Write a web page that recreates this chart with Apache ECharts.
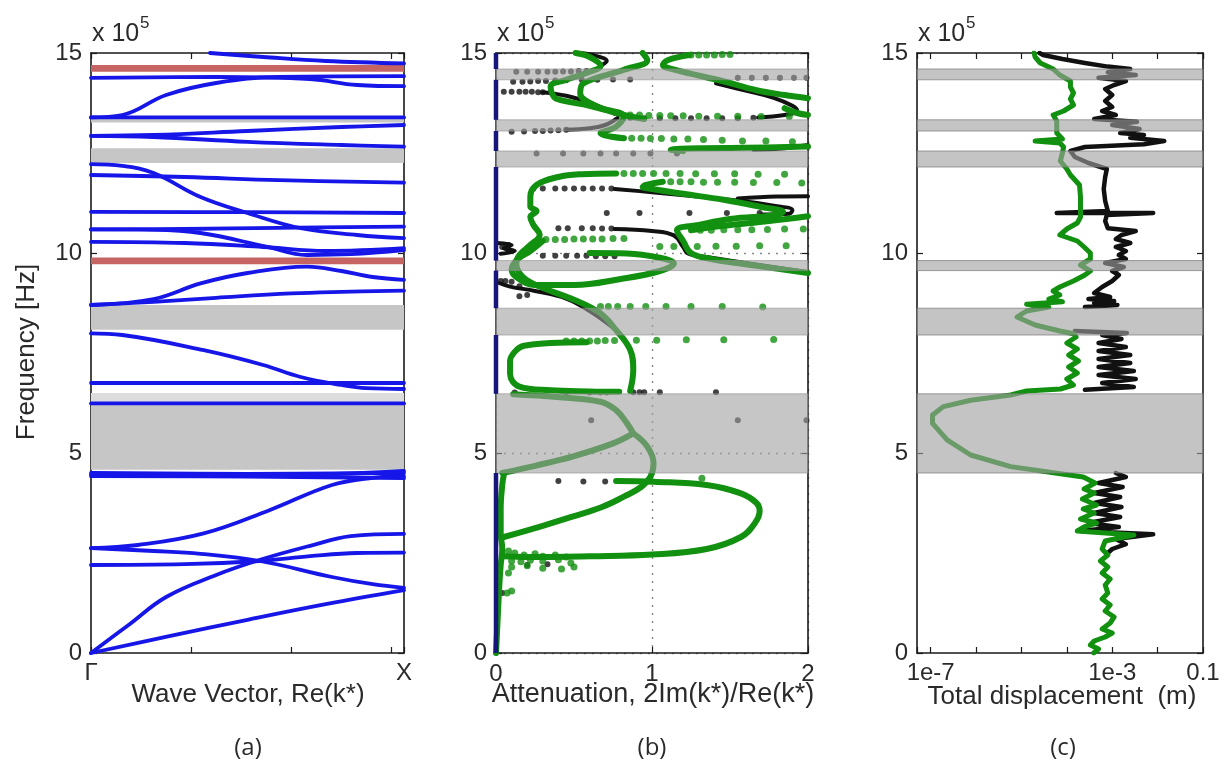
<!DOCTYPE html>
<html>
<head>
<meta charset="utf-8">
<script src="https://cdn.jsdelivr.net/npm/echarts@6/dist/echarts.min.js"></script>
<style>
html, body { margin: 0; background: #fff; }
#main { width: 1228px; height: 780px; }
</style>
</head>
<body>
<div id="main"></div>
<script>
// frequencies are in units of 1e5 Hz

// panel (a): band structure
var gapsA = [[13.26, 13.37], [12.25, 12.62], [8.08, 8.7], [4.58, 6.2]];
var lightGapsA = [[6.2, 6.5]];
var redBandsA = [[14.53, 14.7], [9.72, 9.89]];
var bandsA = [
  [[0, 0], [0.25, 0.42], [0.5, 0.83], [0.75, 1.22], [1, 1.57]],
  [[0, 0], [0.12, 0.7], [0.24, 1.4], [0.4, 1.95], [0.54, 2.33], [0.7, 2.68], [0.83, 2.92], [1, 2.98]],
  [[0, 2.62], [0.2, 2.55], [0.35, 2.48], [0.54, 2.3], [0.77, 1.9], [0.9, 1.72], [1, 1.63]],
  [[0, 2.2], [0.3, 2.22], [0.54, 2.3], [0.7, 2.42], [0.85, 2.5], [1, 2.51]],
  [[0, 2.62], [0.15, 2.7], [0.36, 2.99], [0.57, 3.57], [0.77, 4.2], [0.9, 4.38], [1, 4.42]],
  [[0, 4.5], [0.5, 4.48], [1, 4.5]],
  [[0, 4.42], [0.5, 4.41], [1, 4.37]],
  [[0, 4.46], [0.6, 4.45], [1, 4.55]],
  [[0, 6.24], [1, 6.24]],
  [[0, 6.75], [1, 6.75]],
  [[0, 7.99], [0.1, 7.95], [0.36, 7.57], [0.55, 7.2], [0.67, 6.9], [0.8, 6.7], [0.88, 6.62], [1, 6.6]],
  [[0, 8.7], [0.2, 8.85], [0.35, 9.24], [0.5, 9.5], [0.69, 9.66], [0.8, 9.55], [0.9, 9.4], [1, 9.33]],
  [[0, 8.7], [0.2, 8.78], [0.4, 8.88], [0.64, 8.99], [0.8, 9.03], [1, 9.06]],
  [[0, 10.59], [0.3, 10.6], [0.6, 10.63], [1, 10.66]],
  [[0, 10.59], [0.2, 10.58], [0.35, 10.5], [0.56, 10.16], [0.69, 9.95], [0.83, 9.97], [1, 10.07]],
  [[0, 10.28], [0.3, 10.25], [0.55, 10.15], [0.75, 10.05], [1, 10.12]],
  [[0, 12.22], [0.1, 12.18], [0.2, 12.0], [0.35, 11.4], [0.5, 11.0], [0.67, 10.62], [0.85, 10.45], [1, 10.37]],
  [[0, 11.95], [0.3, 11.9], [0.6, 11.82], [1, 11.76]],
  [[0, 11.03], [0.5, 11.02], [1, 11.0]],
  [[0, 12.93], [0.2, 12.95], [0.5, 13.05], [0.8, 13.15], [1, 13.2]],
  [[0, 12.93], [0.2, 12.9], [0.5, 12.78], [0.8, 12.7], [1, 12.66]],
  [[0, 13.39], [1, 13.39]],
  [[0, 13.39], [0.1, 13.45], [0.24, 13.95], [0.4, 14.25], [0.6, 14.4], [1, 14.42]],
  [[0, 14.38], [0.4, 14.4], [0.7, 14.35], [0.85, 14.2], [1, 14.17]],
  [[0.38, 15.0], [0.55, 14.9], [0.75, 14.8], [1, 14.74]]
];

// panels (b) and (c): stop bands and pass bands
var gapsBC = [[14.33, 14.6], [13.05, 13.33], [12.15, 12.55], [9.56, 9.81], [7.95, 8.62], [4.5, 6.48]];
var passBandsB = [[0, 4.5], [6.48, 7.95], [8.62, 9.56], [9.81, 12.15], [12.55, 13.05], [13.33, 14.33], [14.6, 15]];

// panel (b): attenuation curves [attenuation, frequency]
var greenCurvesB = [
  [[0, 0], [0.01, 0.8], [0.02, 1.6], [0.03, 2.2], [0.04, 2.6], [0.03, 3.0], [0.03, 3.6], [0.04, 4.2], [0.05, 4.45]],
  [[0.77, 4.3], [1.01, 4.28], [1.35, 4.2], [1.57, 3.99], [1.67, 3.75], [1.69, 3.55], [1.66, 3.25], [1.57, 2.9], [1.35, 2.6], [1.0, 2.46], [0.6, 2.42], [0.2, 2.4], [0.05, 2.42]],
  [[0.05, 2.9], [0.3, 3.18], [0.49, 3.41], [0.68, 3.65], [0.82, 3.91], [0.93, 4.15], [0.99, 4.41], [1.01, 4.74], [0.97, 5.16], [0.88, 5.49]],
  [[0.04, 4.5], [0.25, 4.68], [0.49, 4.91], [0.75, 5.24], [0.88, 5.49]],
  [[0.88, 5.49], [0.84, 5.74], [0.77, 6.07], [0.67, 6.28], [0.39, 6.4], [0.11, 6.47]],
  [[0.58, 7.77], [0.35, 7.75], [0.18, 7.68], [0.13, 7.57], [0.09, 7.3], [0.09, 6.99], [0.15, 6.66], [0.35, 6.57], [0.6, 6.54], [0.79, 6.53]],
  [[0.77, 11.99], [0.55, 11.97], [0.4, 11.9], [0.26, 11.7], [0.22, 11.4], [0.22, 11.16], [0.26, 11.05], [0.22, 10.9], [0.24, 10.7], [0.28, 10.45], [0.22, 10.2], [0.15, 9.95], [0.13, 9.74], [0.17, 9.41], [0.28, 9.16], [0.5, 8.83], [0.67, 8.49], [0.77, 8.07], [0.86, 7.58], [0.88, 7.08], [0.86, 6.55]],
  [[0.6, 10.0], [0.84, 9.99], [1.05, 9.88], [1.14, 9.74], [1.05, 9.55], [0.8, 9.35], [0.5, 9.2], [0.25, 9.2], [0.13, 9.4], [0.1, 9.6], [0.14, 9.85], [0.22, 10.05], [0.3, 10.3]],
  [[1.07, 11.78], [0.96, 11.7], [0.94, 11.65], [1.0, 11.6], [1.2, 11.48], [1.46, 11.33], [1.7, 11.15], [1.84, 11.03], [1.8, 10.95], [1.5, 10.85], [1.3, 10.7], [1.16, 10.57], [1.2, 10.3], [1.25, 10.0], [1.38, 9.85], [1.6, 9.72], [2.0, 9.5]],
  [[2.0, 10.92], [1.75, 10.8], [1.46, 10.68], [1.25, 10.57]],
  [[0.51, 15.0], [0.6, 14.9], [0.67, 14.68], [0.58, 14.5], [0.45, 14.33], [0.35, 14.16], [0.36, 13.98], [0.39, 13.85], [0.6, 13.68], [0.82, 13.45], [0.95, 13.35]],
  [[0.94, 15.0], [0.97, 14.82], [0.82, 14.58], [0.56, 14.24], [0.54, 13.99], [0.65, 13.66], [0.82, 13.41], [0.77, 13.16], [0.67, 12.99], [0.82, 12.87]],
  [[1.24, 14.95], [1.1, 14.82], [1.07, 14.7], [1.15, 14.58], [1.24, 14.49], [1.45, 14.3], [1.67, 14.07], [1.85, 13.95], [2.0, 13.87]],
  [[1.85, 13.62], [1.93, 13.5], [2.0, 13.45]],
  [[1.2, 12.55], [1.12, 12.58], [1.3, 12.62], [1.6, 12.63], [2.0, 12.66]]
];
var blackCurvesB = [
  [[0.54, 15.0], [0.64, 14.93], [0.71, 14.8], [0.68, 14.7]],
  [[0.3, 14.02], [0.45, 13.93], [0.6, 13.76], [0.7, 13.6], [0.76, 13.48]],
  [[0.45, 13.08], [0.6, 13.12], [0.7, 13.2], [0.78, 13.38]],
  [[1.41, 14.24], [1.6, 14.06], [1.78, 13.88], [1.9, 13.68], [1.93, 13.56], [1.85, 13.45], [1.68, 13.39]],
  [[1.65, 12.58], [1.85, 12.62], [2.0, 12.7]],
  [[0.76, 11.6], [1.0, 11.52], [1.24, 11.43], [1.5, 11.33], [1.75, 11.2], [1.9, 11.07], [1.88, 10.98], [1.7, 10.96]],
  [[1.55, 11.36], [1.8, 11.41], [2.0, 11.42]],
  [[0.76, 10.6], [1.0, 10.55], [1.14, 10.44], [1.2, 10.15], [1.23, 9.99], [1.35, 9.9], [1.6, 9.75], [2.0, 9.52]],
  [[0.0, 10.25], [0.1, 10.2], [0.05, 10.12], [0.12, 10.05], [0.03, 9.98]],
  [[0.02, 9.25], [0.09, 9.16], [0.25, 9.05], [0.45, 8.86], [0.62, 8.5], [0.77, 8.07]]
];
var greenDotsB = [
  [1.25, 14.95], [1.3, 14.95], [1.35, 14.95], [1.4, 14.95], [1.45, 14.96], [1.5, 14.96],
  [0.86, 13.45], [0.92, 13.45], [0.98, 13.44], [1.05, 13.44], [1.12, 13.43], [1.2, 13.43], [1.3, 13.42], [1.42, 13.42], [1.55, 13.42], [1.7, 13.41], [1.88, 13.41],
  [0.87, 12.87], [0.93, 12.87], [0.99, 12.86], [1.06, 12.86], [1.14, 12.85], [1.23, 12.85], [1.33, 12.84], [1.45, 12.82], [1.58, 12.8], [1.73, 12.8], [1.9, 12.78],
  [0.82, 11.99], [0.88, 11.99], [0.94, 11.99], [1.01, 11.99], [1.09, 11.99], [1.18, 11.99], [1.28, 11.98], [1.4, 11.98], [1.53, 11.98], [1.68, 11.97], [1.85, 11.97],
  [1.12, 11.78], [1.18, 11.78], [1.25, 11.78], [1.33, 11.77], [1.42, 11.77], [1.53, 11.77], [1.65, 11.76], [1.8, 11.76], [1.96, 11.75],
  [1.31, 10.57], [1.38, 10.57], [1.46, 10.58], [1.55, 10.58], [1.64, 10.58], [1.74, 10.59], [1.85, 10.6], [1.97, 10.6],
  [0.32, 10.34], [0.38, 10.34], [0.44, 10.34], [0.5, 10.35], [0.56, 10.35], [0.62, 10.35], [0.68, 10.35], [0.75, 10.36], [0.82, 10.36],
  [1.05, 10.16], [1.14, 10.16], [1.29, 10.16], [1.41, 10.17], [1.54, 10.17], [1.69, 10.18], [1.86, 10.18],
  [0.67, 8.66], [0.72, 8.66], [0.78, 8.66], [0.86, 8.66], [0.96, 8.66], [1.09, 8.66], [1.25, 8.66], [1.45, 8.66], [1.71, 8.65],
  [0.45, 7.8], [0.5, 7.8], [0.55, 7.8], [0.6, 7.8], [0.65, 7.8], [0.7, 7.81], [0.76, 7.81], [0.9, 7.82], [1.03, 7.82], [1.22, 7.83], [1.46, 7.83], [1.78, 7.84],
  [1.32, 4.37],
  [0.08, 2.55], [0.12, 2.5], [0.18, 2.45], [0.25, 2.48], [0.3, 2.42], [0.38, 2.45], [0.45, 2.4], [0.1, 2.3], [0.16, 2.28], [0.22, 2.32], [0.3, 2.3], [0.4, 2.33], [0.48, 2.25],
  [0.1, 2.15], [0.2, 2.18], [0.3, 2.12], [0.42, 2.1], [0.5, 2.15], [0.08, 2.0], [0.1, 1.55], [0.07, 1.5]
];
var blackDotsB = [
  [0.13, 14.53], [0.2, 14.53], [0.27, 14.53], [0.33, 14.53], [0.38, 14.53], [0.43, 14.54], [0.48, 14.54], [0.53, 14.55], [0.58, 14.55],
  [0.11, 14.28], [0.17, 14.28], [0.22, 14.29], [0.27, 14.3], [0.32, 14.3], [0.38, 14.31], [0.45, 14.32], [0.55, 14.33], [0.65, 14.33], [0.75, 14.34], [0.86, 14.34],
  [0.05, 14.03], [0.1, 14.03], [0.15, 14.03], [0.19, 14.03], [0.23, 14.03], [0.27, 14.02], [0.3, 14.02],
  [1.55, 14.38], [1.64, 14.38], [1.73, 14.38], [1.82, 14.38], [1.91, 14.38], [1.99, 14.38],
  [0.86, 13.38], [0.95, 13.37], [1.05, 13.37], [1.15, 13.37], [1.25, 13.37], [1.35, 13.37], [1.45, 13.37], [1.55, 13.37], [1.65, 13.38],
  [0.1, 13.03], [0.18, 13.04], [0.25, 13.05], [0.3, 13.05], [0.35, 13.06], [0.4, 13.07], [0.45, 13.08],
  [0.26, 12.49], [0.43, 12.49], [0.56, 12.49], [0.67, 12.49], [0.77, 12.49], [0.88, 12.49], [0.99, 12.49], [1.16, 12.49],
  [0.24, 11.61], [0.3, 11.61], [0.38, 11.61], [0.44, 11.61], [0.5, 11.61], [0.56, 11.61], [0.62, 11.61], [0.68, 11.61], [0.74, 11.61],
  [0.71, 11.0], [0.92, 11.0], [1.24, 11.0], [1.48, 11.0], [1.69, 11.0],
  [0.4, 10.62], [0.46, 10.62], [0.55, 10.62], [0.62, 10.62], [0.68, 10.61], [0.74, 10.61],
  [0.3, 9.93], [0.38, 9.93], [0.45, 9.93], [0.52, 9.93], [0.58, 9.93], [0.64, 9.92], [0.7, 9.92], [0.76, 9.92],
  [0.04, 10.15], [0.08, 10.2], [0.03, 9.3], [0.06, 9.3], [0.1, 9.28], [0.15, 9.17], [0.15, 8.92], [0.2, 8.95],
  [0.12, 6.51], [0.45, 6.51], [0.6, 6.51], [0.67, 6.51], [0.71, 6.51], [0.88, 6.52], [0.92, 6.52], [0.95, 6.52], [1.05, 6.52], [1.41, 6.52],
  [0.61, 5.82], [1.55, 5.82], [1.99, 5.82],
  [0.4, 4.3], [0.56, 4.29], [0.7, 4.29],
  [0.2, 2.2], [0.33, 2.22], [0.04, 1.5], [0.04, 2.9]
];

// panel (c): total displacement [metres, frequency]
var greenC = [
  [3.9e-4, 0.0], [5e-4, 0.1], [3.3e-4, 0.2], [4e-4, 0.3], [7e-4, 0.4], [1.0e-3, 0.5], [6e-4, 0.6], [9e-4, 0.75], [1.1e-3, 0.9], [7e-4, 1.05],
  [9e-4, 1.2], [6e-4, 1.35], [8e-4, 1.5], [7e-4, 1.7], [9e-4, 1.85], [6e-4, 2.0], [8e-4, 2.15], [5.5e-4, 2.3], [8e-4, 2.45], [6e-4, 2.6],
  [7e-4, 2.8], [3e-3, 2.95], [1.7e-4, 3.05], [2.4e-4, 3.15], [4.5e-4, 3.25], [2e-4, 3.35], [4e-4, 3.5], [2.3e-4, 3.6], [4.5e-4, 3.7], [2.2e-4, 3.85],
  [4e-4, 4.0], [2.4e-4, 4.1], [4.2e-4, 4.25], [2.3e-4, 4.4], [7.2e-5, 4.48], [5.8e-6, 4.66], [7.6e-7, 4.95], [2.3e-7, 5.33], [1.1e-7, 5.74], [1.1e-7, 5.95],
  [1.9e-7, 6.16], [7.6e-7, 6.32], [5.8e-6, 6.45], [1.3e-5, 6.55], [7.2e-5, 6.6], [1.4e-4, 6.7], [1e-4, 6.85], [1.7e-4, 7.0], [1.1e-4, 7.15], [1.8e-4, 7.3],
  [1.1e-4, 7.45], [1.7e-4, 7.6], [1.0e-4, 7.75], [1.6e-4, 7.9], [1.4e-4, 7.98], [7e-5, 8.05], [2e-5, 8.2], [8e-6, 8.4], [1.3e-5, 8.55], [4e-5, 8.65],
  [1.3e-5, 8.72], [8e-5, 8.78], [4e-5, 8.85], [7e-5, 8.95], [5e-5, 9.05], [7e-5, 9.15], [1.4e-4, 9.3], [2.5e-4, 9.45], [3.3e-4, 9.55], [2e-4, 9.7],
  [3.3e-4, 9.85], [3.3e-4, 10.0], [2.4e-4, 10.15], [1.7e-4, 10.3], [7e-5, 10.45], [1e-4, 10.6], [1.7e-4, 10.75], [2e-4, 10.9], [2e-4, 11.1], [2e-4, 11.4],
  [1.9e-4, 11.7], [1.2e-4, 11.95], [1e-4, 12.1], [7.2e-5, 12.3], [8e-5, 12.5], [8.5e-5, 12.65], [7e-5, 12.75], [2e-5, 12.8], [8e-5, 12.85], [6e-5, 13.0],
  [6e-5, 13.15], [6e-5, 13.3], [5e-5, 13.45], [8.5e-5, 13.55], [1.4e-4, 13.7], [1.2e-4, 13.85], [1.4e-4, 14.0], [1.2e-4, 14.15], [1.2e-4, 14.3], [7e-5, 14.45],
  [5e-5, 14.6], [2.6e-5, 14.75], [2e-5, 14.9], [1.9e-5, 15.0]
];
var blackC1 = [
  [8e-4, 2.5], [1e-3, 2.6], [2e-3, 2.72], [1.2e-3, 2.85], [8e-3, 2.97], [2e-4, 3.05], [1.4e-3, 3.15], [3e-4, 3.25], [1.5e-3, 3.4], [4e-4, 3.5],
  [1.6e-3, 3.65], [4e-4, 3.75], [1.5e-3, 3.9], [4e-4, 4.0], [1.7e-3, 4.15], [5e-4, 4.25], [2e-3, 4.4], [1.2e-3, 4.5]
];
var blackC2 = [
  [2.5e-4, 6.58], [3e-3, 6.65], [6e-4, 6.75], [3.3e-3, 6.85], [5e-4, 6.95], [3e-3, 7.05], [5e-4, 7.15], [2.5e-3, 7.25], [5e-4, 7.35], [2.5e-3, 7.45],
  [5e-4, 7.55], [2e-3, 7.65], [5e-4, 7.75], [1.6e-3, 7.85], [6e-4, 7.95], [2.1e-3, 8.0], [1.5e-4, 8.05]
];
var blackC3 = [
  [2.5e-4, 8.65], [1.3e-3, 8.7], [4e-4, 8.75], [1.1e-3, 8.8], [3e-4, 8.85], [9e-4, 8.9], [4e-4, 9.0], [6e-4, 9.15], [1e-3, 9.3], [1.4e-3, 9.45],
  [1e-3, 9.55], [1.8e-3, 9.65], [7e-4, 9.75], [2e-3, 9.85], [1.4e-3, 9.95], [2e-3, 10.05], [1.2e-3, 10.15], [2.5e-3, 10.25], [1.2e-3, 10.35], [1.6e-3, 10.45],
  [3.3e-3, 10.55], [8e-4, 10.62], [7e-4, 10.8], [7.6e-4, 10.95], [8e-3, 11.0], [6e-5, 11.0], [8e-4, 11.05], [7e-4, 11.3], [6.5e-4, 11.6], [7e-4, 11.9],
  [7.6e-4, 12.1], [3e-4, 12.25], [1.5e-4, 12.4], [1.2e-4, 12.55], [2.5e-4, 12.65], [5e-3, 12.72], [1.4e-2, 12.8], [2.5e-3, 12.88], [5e-3, 12.95], [1.5e-3, 13.0],
  [4e-3, 13.1], [1e-3, 13.2], [3.5e-3, 13.28], [4e-4, 13.35], [1.2e-3, 13.45], [6e-4, 13.55], [1e-3, 13.65], [7e-4, 13.8], [1e-3, 13.95], [7e-4, 14.1],
  [1.1e-3, 14.2], [2e-3, 14.3], [5e-4, 14.38], [3.3e-3, 14.45], [8e-4, 14.52], [2.5e-3, 14.6], [8e-4, 14.66], [2.5e-4, 14.75], [8e-5, 14.85], [3e-5, 14.95],
  [2.5e-5, 15.0]
];

var FONT = 'Liberation Sans, Arial, sans-serif';
var GREEN = '#12900f';
var BLACK = '#111111';

function xAx(gi, pos, extra) {
  return Object.assign({
    type: 'value', gridIndex: gi, position: pos,
    axisLine: { show: true, onZero: false, lineStyle: { color: '#1a1a1a', width: 1.6 } },
    axisTick: { show: true, inside: true, length: 6, lineStyle: { color: '#1a1a1a', width: 1.2 } },
    axisLabel: { show: pos === 'bottom', color: '#2a2a2a', fontSize: 24, fontFamily: FONT, margin: 9 },
    splitLine: { show: false }
  }, extra);
}
function yAx(gi, pos, extra) {
  return Object.assign({
    type: 'value', gridIndex: gi, position: pos, min: 0, max: 15, interval: 5,
    axisLine: { show: true, onZero: false, lineStyle: { color: '#1a1a1a', width: 1.6 } },
    axisTick: { show: true, inside: true, length: 6, lineStyle: { color: '#1a1a1a', width: 1.2 } },
    axisLabel: { show: pos === 'left', color: '#2a2a2a', fontSize: 24, fontFamily: FONT, margin: 9 },
    splitLine: { show: false }
  }, extra);
}

function bandSeries(gi, bands, color, x0, x1, z, border) {
  return {
    type: 'line', xAxisIndex: gi * 2, yAxisIndex: gi * 2, data: [], z: z, silent: true,
    markArea: {
      silent: true, z: z,
      itemStyle: { color: color, borderColor: border || 'transparent', borderWidth: border ? 1 : 0 },
      data: bands.map(function (b) { return [{ xAxis: x0, yAxis: b[0] }, { xAxis: x1, yAxis: b[1] }]; })
    }
  };
}
function curve(gi, data, color, width, z, smooth) {
  return {
    type: 'line', xAxisIndex: gi * 2, yAxisIndex: gi * 2, data: data, showSymbol: false,
    smooth: smooth, z: z, silent: true,
    lineStyle: { color: color, width: width, cap: 'round', join: 'round' }
  };
}
function dots(gi, data, color, size, z) {
  return {
    type: 'scatter', xAxisIndex: gi * 2, yAxisIndex: gi * 2, data: data, symbolSize: size,
    itemStyle: { color: color }, z: z, silent: true
  };
}

var series = [];
// panel (a)
series.push(bandSeries(0, gapsA, '#c6c6c6', 0, 1, 1));
series.push(bandSeries(0, lightGapsA, '#dddddd', 0, 1, 1));
series.push(bandSeries(0, redBandsA, '#c66464', 0, 1, 1));
bandsA.forEach(function (b) { series.push(curve(0, b, '#1616e8', 3.8, 3, 0.4)); });

// panel (b)
blackCurvesB.forEach(function (c) { series.push(curve(1, c, BLACK, 4, 3, 0.4)); });
series.push(dots(1, blackDotsB, BLACK, 6, 3));
greenCurvesB.forEach(function (c) { series.push(curve(1, c, GREEN, 6, 4, 0.4)); });
series.push(dots(1, greenDotsB, GREEN, 7, 4));
series.push(bandSeries(1, gapsBC, 'rgba(160,160,160,0.6)', 0, 2, 10, 'rgba(140,140,140,0.6)'));
passBandsB.forEach(function (p) {
  var s = curve(1, [[0, p[0]], [0, p[1]]], '#16167a', 4.5, 12, false);
  s.clip = false;
  s.lineStyle.cap = 'butt';
  series.push(s);
});

// panel (c)
[blackC1, blackC2, blackC3].forEach(function (c) { series.push(curve(2, c, BLACK, 4.5, 3, false)); });
series.push(curve(2, greenC, GREEN, 5, 4, false));
series.push(bandSeries(2, gapsBC, 'rgba(160,160,160,0.62)', 5e-8, 0.1, 10, 'rgba(120,120,120,0.7)'));

function txt(x, y, text, size, extra) {
  return {
    type: 'text', x: x, y: y, silent: true, rotation: (extra && extra.rotation) || 0,
    style: Object.assign({
      text: text, fill: '#2a2a2a', font: size + 'px ' + FONT,
      textAlign: 'center', textVerticalAlign: 'middle'
    }, extra && extra.style)
  };
}

var graphics = [
  txt(27, 352, 'Frequency [Hz]', 26, { rotation: Math.PI / 2 }),
  txt(248, 695, 'Wave Vector, Re(k*)', 26),
  txt(653, 695, 'Attenuation, 2Im(k*)/Re(k*)', 27),
  txt(1062, 697, 'Total displacement  (m)', 26),
  txt(248, 748, '(a)', 24, { style: { font: '24px Open Sans, sans-serif' } }),
  txt(652, 748, '(b)', 24, { style: { font: '24px Open Sans, sans-serif' } }),
  txt(1063, 748, '(c)', 24, { style: { font: '24px Open Sans, sans-serif' } })
];
[91, 496, 917].forEach(function (x0) {
  graphics.push(txt(x0 + 1, 34, 'x 10', 25, { style: { textAlign: 'left' } }));
  graphics.push(txt(x0 + 49, 23, '5', 17, { style: { textAlign: 'left' } }));
});

var option = {
  animation: false,
  backgroundColor: '#ffffff',
  grid: [
    { left: 91, top: 53, width: 313, height: 600 },
    { left: 496, top: 53, width: 312, height: 600 },
    { left: 917, top: 53, width: 286, height: 600 }
  ],
  xAxis: [
    xAx(0, 'bottom', {
      min: 0, max: 1, interval: 0.32,
      axisLabel: {
        show: true, color: '#2a2a2a', fontSize: 24, fontFamily: FONT, margin: 8, showMaxLabel: true,
        formatter: function (v) { return v === 0 ? 'Γ' : (Math.abs(v - 1) < 1e-6 ? 'X' : ''); }
      }
    }),
    xAx(0, 'top', { min: 0, max: 1, interval: 0.32 }),
    xAx(1, 'bottom', {
      min: 0, max: 2, interval: 1,
      splitLine: { show: true, lineStyle: { color: '#8a8a8a', type: [2, 6], width: 1.4 } }
    }),
    xAx(1, 'top', { min: 0, max: 2, interval: 1 }),
    xAx(2, 'bottom', {
      type: 'log', logBase: 10, min: 5e-8, max: 0.1,
      axisLabel: {
        show: true, color: '#2a2a2a', fontSize: 24, fontFamily: FONT, margin: 8, showMinLabel: true, showMaxLabel: true,
        formatter: function (v) {
          var e = Math.log10(v);
          if (Math.abs(e + 7) < 0.01) return '1e-7';
          if (Math.abs(e + 3) < 0.01) return '1e-3';
          if (Math.abs(e + 1) < 0.01) return '0.1';
          return '';
        }
      }
    }),
    xAx(2, 'top', { type: 'log', logBase: 10, min: 5e-8, max: 0.1 })
  ],
  yAxis: [
    yAx(0, 'left'), yAx(0, 'right'),
    yAx(1, 'left', { splitLine: { show: true, lineStyle: { color: '#8a8a8a', type: [2, 6], width: 1.4 } } }),
    yAx(1, 'right'),
    yAx(2, 'left'), yAx(2, 'right')
  ],
  series: series,
  graphic: graphics
};

var chart = echarts.init(document.getElementById('main'), null, { renderer: 'canvas' });
chart.setOption(option);
</script>
</body>
</html>
